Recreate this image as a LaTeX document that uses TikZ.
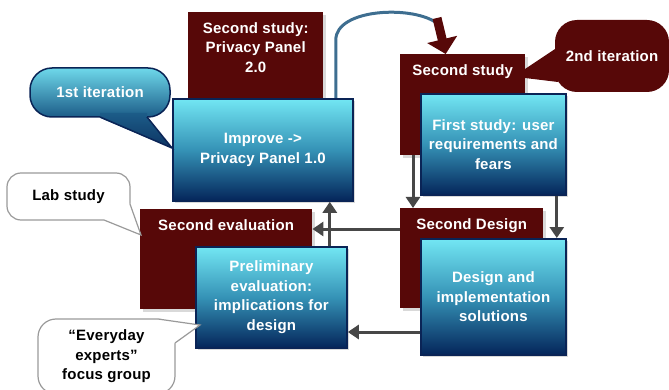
\documentclass[tikz,border=0pt]{standalone}
\usepackage{fontspec}
\setmainfont[LetterSpace=1.5]{Liberation Sans}
\usetikzlibrary{arrows.meta,shadows}
\definecolor{dred}{HTML}{570808}
\definecolor{ctop}{HTML}{72E6F3}
\definecolor{cmid}{HTML}{3592B6}
\definecolor{cbot}{HTML}{04255A}
\definecolor{bline}{HTML}{0A2456}
\definecolor{connc}{HTML}{474747}
\definecolor{curvec}{HTML}{3E6E90}
\definecolor{cgrey}{HTML}{9A9A9A}
\definecolor{itop}{HTML}{6ED8EA}
\definecolor{ibot}{HTML}{1C5C88}
\definecolor{itip}{HTML}{0D3463}
\begin{document}
\begin{tikzpicture}[x=1pt,y=-1pt,
  every node/.style={font=\bfseries\fontsize{15}{19.5}\selectfont},
  shad/.style={drop shadow={shadow xshift=2.5pt,shadow yshift=-2.5pt,opacity=.3}},
  redbox/.style={shad,fill=dred,anchor=north west,inner sep=0pt},
  redtext/.style={text=white,align=center,inner sep=0pt,anchor=north,yshift=-10pt},
  bluebox/.style={shad,draw=bline,line width=1.8pt,top color=ctop,bottom color=cbot,middle color=cmid,text=white,align=center,anchor=north west,inner sep=0pt},
  conn/.style={draw=connc,line width=3pt,-{Triangle[width=14pt,length=11pt]}},
  callw/.style={fill=white,draw=cgrey,line width=1.2pt,rounded corners=14pt,align=center,inner sep=0pt},
  tailw/.style={draw=cgrey,line width=1.2pt},
]
\useasboundingbox (0,0) rectangle (669,390);

% dark red boxes
\node[redbox,minimum width=135pt,minimum height=90pt,label={[redtext]north:{Second study:\\Privacy Panel\\2.0}}] (rs1) at (188,12) {};
\node[redbox,minimum width=125pt,minimum height=101pt,label={[redtext]north:{Second study}}] (rs2) at (400,54) {};
\node[redbox,minimum width=172pt,minimum height=100pt,label={[redtext]north:{Second evaluation}}] (seceval) at (140,209) {};
\node[redbox,minimum width=143pt,minimum height=100pt,label={[redtext]north:{Second Design}}] (secdesign) at (400,208) {};

% blue boxes
\node[bluebox,minimum width=180pt,minimum height=102pt] (improve) at (172,98) {Improve ->\\Privacy Panel 1.0};
\node[bluebox,minimum width=145pt,minimum height=101pt] (first) at (420,93) {First study: user\\requirements and\\fears};
\node[bluebox,minimum width=151pt,minimum height=101pt] (prelim) at (195,246) {Preliminary\\evaluation:\\implications for\\design};
\node[bluebox,minimum width=145pt,minimum height=116pt] (design) at (420,238) {Design and\\implementation\\solutions};

% connectors
\draw[conn] ([xshift=13pt]rs2.south west) -- ([xshift=13pt]rs2.south west |- secdesign.north);
\draw[conn] ([xshift=-10pt]first.south east) -- ([xshift=-10pt]first.south east |- design.north);
\draw[conn] ([yshift=-21pt]secdesign.north west) -- ([yshift=-21pt]secdesign.north west -| seceval.east);
\draw[conn] ([xshift=-18pt]prelim.north east) -- ([xshift=-18pt]prelim.north east |- improve.south);
\draw[conn] ([yshift=-94pt]design.north west) -- ([yshift=-94pt]design.north west -| prelim.east);

% top curved connector
\coordinate (cend) at (438,24);
\coordinate (rstart) at (437,18);
\draw[curvec,line width=3pt] ([xshift=-18pt]improve.north east) -- ++(0,-58) .. controls +(0,-32) and +(-23,-19) .. (cend);
\draw[dred,line width=9pt,-{Triangle[width=30pt,length=15pt]}] (rstart) -- ([xshift=-17pt]rs2.north);

% Lab study callout
\node[callw,minimum width=123pt,minimum height=47pt] (lab) at (68.5,196.5) {Lab study};
\coordinate (labtip) at (141,235);
\fill[white] (104,216) -- (104,221) -- (labtip) -- (130.8,204) -- (126,204) -- cycle;
\draw[tailw] (104,220) -- (labtip) -- (130,204);

% Everyday experts callout
\node[callw,rounded corners=18pt,minimum width=137pt,minimum height=75pt] (everyday) at (106.5,356.5) {“Everyday\\experts”\\focus group};
\coordinate (evtip) at (200,325);
\fill[white] (158,323) -- (158,318.3) -- (evtip) -- (175.7,343) -- (171,343) -- cycle;
\draw[tailw] (158,319) -- (evtip) -- (175,343);

% 1st iteration callout
\node[draw=bline,line width=1.5pt,top color=itop,bottom color=ibot,rounded corners=22pt,minimum width=140pt,minimum height=49pt,text=white,inner sep=0pt] (it1) at (100,92.5) {1st iteration};
\coordinate (it1tip) at (172,148);
\shade[top color=ibot,bottom color=itip] (100,113) -- (100,117.8) -- (it1tip) -- (147,117.8) -- (147,113) -- cycle;
\draw[bline,line width=1.5pt] (100,117) -- (it1tip) -- (147,117);

% 2nd iteration callout
\node[fill=dred,rounded corners=22pt,minimum width=114pt,minimum height=72pt,text=white,inner sep=0pt] (it2) at (612,56) {2nd iteration};
\coordinate (it2tipa) at (525,69);
\coordinate (it2tipb) at (525,78);
\fill[dred] (558,47) -- (it2tipa) -- (it2tipb) -- (558,82) -- cycle;
\end{tikzpicture}
\end{document}
